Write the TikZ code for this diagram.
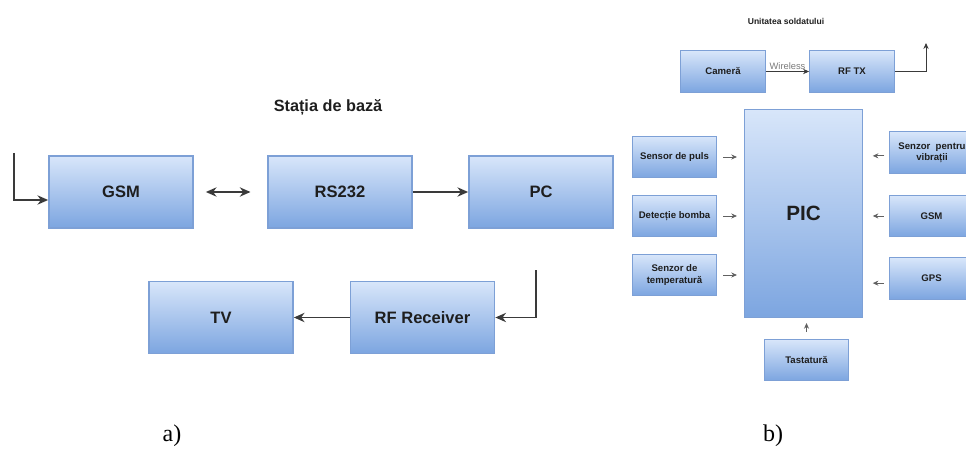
\documentclass[tikz,border=0pt]{standalone}
\usepackage{fontspec}
\setmainfont{Liberation Sans}
\newfontfamily\capfont{Liberation Serif}
\usetikzlibrary{arrows.meta}
\definecolor{boxtop}{HTML}{D8E6FA}
\definecolor{boxbot}{HTML}{7CA5E0}
\definecolor{boxline}{HTML}{7DA0D6}
\definecolor{txt}{HTML}{1E1E1E}
\definecolor{wire}{HTML}{3A3A3A}
\definecolor{graytxt}{HTML}{7A7A7A}
\tikzset{
  blockbig/.style={rectangle, draw=boxline, line width=1.3pt, top color=boxtop, bottom color=boxbot,
    minimum width=108pt, minimum height=54pt, inner sep=0pt, text=txt,
    font=\fontsize{12.4}{14}\selectfont\bfseries},
  blocksmall/.style={rectangle, draw=boxline, line width=0.9pt, top color=boxtop, bottom color=boxbot,
    minimum width=63.5pt, minimum height=31pt, inner sep=0pt, text=txt, align=center,
    font=\fontsize{7.2}{8.6}\selectfont\bfseries},
  bigarrow/.style={draw=wire, line width=1.1pt, -{Stealth[length=8pt,width=7pt]}},
  smallarrow/.style={draw=wire, line width=0.7pt, -{Stealth[length=4.5pt,width=4pt]}},
  tinyarrow/.style={draw=wire!80, line width=0.6pt, -{Stealth[length=4.2pt,width=3.8pt]}},
  heading/.style={text=txt, inner sep=0pt},
  caption/.style={inner sep=0pt, font=\capfont\fontsize{18}{20}\selectfont}
}
\begin{document}
\begin{tikzpicture}[x=0.75pt, y=-0.75pt]
\useasboundingbox (0,0) rectangle (966,449);
\clip (0,0) rectangle (966,449);

% --- base station (a) ---
\node[heading, font=\fontsize{12.2}{14}\selectfont\bfseries] (titleA) at (328,107) {Stația de bază};
\node[blockbig] (gsm) at (121,192) {GSM};
\node[blockbig] (rs) at (340,192) {RS232};
\node[blockbig] (pc) at (541,192) {PC};
\node[blockbig] (tv) at (221,317.5) {TV};
\node[blockbig] (rf) at (422.5,317.5) {RF Receiver};

\coordinate (inA) at (14,153);
\coordinate (pcout) at (536,270);

\draw[bigarrow] (inA) |- ([yshift=-6pt]gsm.west);
\draw[bigarrow, {Stealth[length=8pt,width=7pt]}-{Stealth[length=8pt,width=7pt]}, shorten <=9pt, shorten >=12.5pt] (gsm.east) -- (rs.west);
\draw[bigarrow] (rs.east) -- (pc.west);
\draw[bigarrow] (pcout) |- (rf.east);
\draw[bigarrow] (rf.west) -- (tv.east);

\node[caption] (capA) at (172,436) {a)};

% --- soldier unit (b) ---
\node[heading, font=\fontsize{6.4}{7.5}\selectfont\bfseries] (titleB) at (786,21) {Unitatea soldatului};
\node[blocksmall] (cam) at (723,71.5) {Cameră};
\node[blocksmall] (rftx) at (852,71.5) {RF TX};
\node[rectangle, draw=boxline, line width=0.9pt, top color=boxtop, bottom color=boxbot,
      minimum width=89pt, minimum height=156.5pt, inner sep=0pt, text=txt,
      font=\fontsize{15.5}{18}\selectfont\bfseries] (pic) at (803.5,213.5) {PIC};

\node[blocksmall] (puls) at (674.5,157) {Sensor de puls};
\node[blocksmall] (bomb) at (674.5,216) {Detecție bomba};
\node[blocksmall] (temp) at (674.5,275) {Senzor de\\temperatură};
\node[blocksmall] (vib) at (932,152.5) {Senzor\ \ pentru\\vibrații};
\node[blocksmall] (gsmb) at (931.5,216) {GSM};
\node[blocksmall] (gps) at (931.5,278.5) {GPS};
\node[blocksmall] (tast) at (806.5,360) {Tastatură};

\coordinate (txout) at (926,43);

\draw[smallarrow] (cam.east) -- node[above=1pt, text=graytxt, font=\fontsize{7}{8}\selectfont, inner sep=0pt] (wl) {Wireless} (rftx.west);
\draw[smallarrow] (rftx.east) -| (txout);

\draw[tinyarrow, shorten <=4.5pt, shorten >=5pt] (puls.east) -- (puls.east -| pic.west);
\draw[tinyarrow, shorten <=4.5pt, shorten >=5pt] (bomb.east) -- (bomb.east -| pic.west);
\draw[tinyarrow, shorten <=4.5pt, shorten >=5pt] (temp.east) -- (temp.east -| pic.west);
\draw[tinyarrow, shorten <=3.5pt, shorten >=7pt] ([yshift=-2.5pt]vib.west) -- ([yshift=-2.5pt]vib.west -| pic.east);
\draw[tinyarrow, shorten <=3.5pt, shorten >=7pt] (gsmb.west) -- (gsmb.west -| pic.east);
\draw[tinyarrow, shorten <=3.5pt, shorten >=7pt] ([yshift=-3.5pt]gps.west) -- ([yshift=-3.5pt]gps.west -| pic.east);
\draw[tinyarrow, shorten <=5pt, shorten >=3.5pt] (tast.north) -- (tast.north |- pic.south);

\node[caption] (capB) at (773,436) {b)};
\end{tikzpicture}
\end{document}
